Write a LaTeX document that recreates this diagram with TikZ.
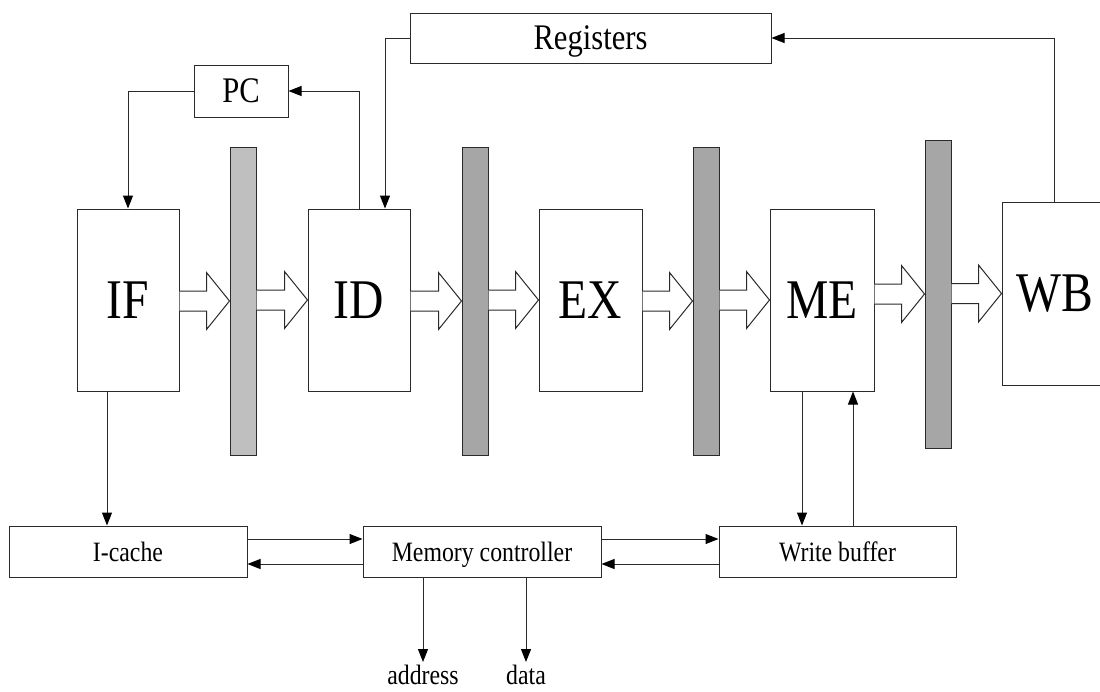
\documentclass[tikz,border=0pt]{standalone}
\usepackage{fontspec}
\setmainfont[FakeStretch=0.85]{Liberation Serif}
\usetikzlibrary{arrows.meta,calc}

\definecolor{latchlight}{HTML}{BFBFBF}
\definecolor{latchdark}{HTML}{A6A6A6}
\definecolor{edge}{HTML}{2A2A2A}

\tikzset{
  stagebox/.style={draw=edge, line width=1pt, fill=white, inner sep=0pt,
    text depth=0pt, font=\fontsize{56}{60}\selectfont,
    minimum width=#1, minimum height=182pt},
  unitbox/.style={draw=edge, line width=1pt, fill=white, inner sep=0pt,
    text depth=0pt, minimum width=#1, minimum height=51pt,
    font=\fontsize{28}{32}\selectfont},
  latch/.style={draw=edge, line width=1pt, fill=#1, inner sep=0pt,
    minimum width=26pt, minimum height=308pt},
  arr/.style={draw=edge, line width=1pt,
    -{Triangle[length=13pt,width=10pt,color=black]}},
  blk/.style={draw=edge, line width=1pt, fill=white, line join=miter},
  sig/.style={inner sep=0pt, text depth=0pt, font=\fontsize{28}{32}\selectfont}
}

% wide hollow arrow from one pipeline element to the next
\newcommand\pipearrow[2]{%
  \draw[blk] let \p1=(#1.east), \p2=(#2.west) in
    ({\x1},{\y2+10pt}) -- ({\x2-23pt},{\y2+10pt}) -- ({\x2-23pt},{\y2+28.5pt})
    -- ({\x2},{\y2}) -- ({\x2-23pt},{\y2-28.5pt}) -- ({\x2-23pt},{\y2-10pt})
    -- ({\x1},{\y2-10pt});}

\begin{document}
\begin{tikzpicture}[x=1pt,y=-1pt]
  \useasboundingbox (0,0) rectangle (1100,691);
  \clip (0,0) rectangle (1100,691);

  % pipeline stages
  \node[stagebox=102pt] (IF) at (128,300) {IF};
  \node[stagebox=102pt] (ID) at (359,300) {ID};
  \node[stagebox=103pt] (EX) at (590.5,300) {EX};
  \node[stagebox=104pt] (ME) at (822,300) {ME};
  \node[stagebox=106pt, minimum height=183pt] (WB) at (1055,293.5) {WB};

  % pipeline registers between stages
  \node[latch=latchlight] (L1) at (243,301) {};
  \node[latch=latchdark]  (L2) at (475,301) {};
  \node[latch=latchdark]  (L3) at (706,301) {};
  \node[latch=latchdark]  (L4) at (938,294) {};

  % register file and program counter
  \node[unitbox=361pt, minimum height=50pt, font=\fontsize{36}{40}\selectfont] (reg) at (590.5,38) {Registers};
  \node[unitbox=94pt, minimum height=52pt, font=\fontsize{36}{40}\selectfont] (pc) at (241,91) {PC};

  % memory side
  \node[unitbox=238pt] (icache) at (128,551.5) {I-cache};
  \node[unitbox=238pt] (mc) at (482,551.5) {Memory controller};
  \node[unitbox=237pt] (wbuf) at (837.5,551.5) {Write buffer};
  \node[sig, anchor=north] (addr) at (423,665) {address};
  \node[sig, anchor=north] (data) at (526,665) {data};

  % data flow through the pipeline
  \pipearrow{IF}{L1}
  \pipearrow{L1}{ID}
  \pipearrow{ID}{L2}
  \pipearrow{L2}{EX}
  \pipearrow{EX}{L3}
  \pipearrow{L3}{ME}
  \pipearrow{ME}{L4}
  \pipearrow{L4}{WB}

  % control and register paths
  \draw[arr] (pc.west) -| (IF.north);
  \draw[arr] (ID.north) |- (pc.east);
  \draw[arr] (reg.west) -| ([xshift=26pt]ID.north);
  \draw[arr] ([xshift=-1pt]WB.north) |- (reg.east);

  % memory connections
  \draw[arr] ([xshift=-21pt]IF.south) -- ([xshift=-21pt]IF.south |- icache.north);
  \draw[arr] ([yshift=12.5pt]icache.east) -- ([yshift=12.5pt]mc.west);
  \draw[arr] ([yshift=-12.5pt]mc.west) -- ([yshift=-12.5pt]icache.east);
  \draw[arr] ([yshift=12.5pt]mc.east) -- ([yshift=12.5pt]wbuf.west);
  \draw[arr] ([yshift=-12.5pt]wbuf.west) -- ([yshift=-12.5pt]mc.east);
  \draw[arr] ([xshift=-20pt]ME.south) -- ([xshift=-20pt]ME.south |- wbuf.north);
  \draw[arr] ([xshift=31pt]ME.south |- wbuf.north) -- ([xshift=31pt]ME.south);
  \draw[arr] (mc.south -| addr.north) -- ([yshift=3pt]addr.north);
  \draw[arr] (mc.south -| data.north) -- ([yshift=3pt]data.north);
\end{tikzpicture}
\end{document}
